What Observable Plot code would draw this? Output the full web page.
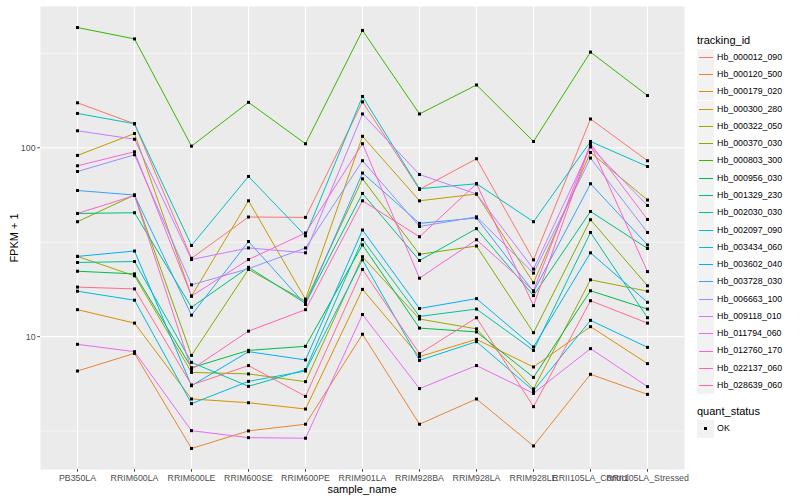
<!DOCTYPE html>
<html><head><meta charset="utf-8">
<script src="https://cdn.jsdelivr.net/npm/d3@7"></script>
<script src="https://cdn.jsdelivr.net/npm/@observablehq/plot@0.6"></script>
<style>
body{margin:0;background:#fff;font-family:"Liberation Sans",Arial,sans-serif;}
#wrap{position:relative;width:800px;height:500px;overflow:hidden;}
.t{position:absolute;white-space:nowrap;line-height:1;}
</style></head><body><div id="wrap"></div>
<script>
const samples = ["PB350LA","RRIM600LA","RRIM600LE","RRIM600SE","RRIM600PE","RRIM901LA","RRIM928BA","RRIM928LA","RRIM928LE","RRII105LA_Control","RRII105LA_Stressed"];
const trackingIds = ["Hb_000012_090","Hb_000120_500","Hb_000179_020","Hb_000300_280","Hb_000322_050","Hb_000370_030","Hb_000803_300","Hb_000956_030","Hb_001329_230","Hb_002030_030","Hb_002097_090","Hb_003434_060","Hb_003602_040","Hb_003728_030","Hb_006663_100","Hb_009118_010","Hb_011794_060","Hb_012760_170","Hb_022137_060","Hb_028639_060"];
const palette = ["#F8766D","#EA8331","#D89000","#C09B00","#A3A500","#7CAE00","#39B600","#00BB4E","#00BF7D","#00C1A3","#00BFC4","#00BAE0","#00B0F6","#35A2FF","#9590FF","#C77CFF","#E76BF3","#FA62DB","#FF62BC","#FF6C91"];
const quantStatus = ["OK"];
const yTicks = [10, 100];

// FPKM + 1 per sample (same order as samples)
const hb_000012_090 = [173, 134, 26.0, 43.0, 42.8, 175, 60.2, 87.5, 25.5, 142, 85.4];
const hb_000120_500 = [6.58, 8.16, 2.56, 3.17, 3.44, 10.3, 3.44, 4.68, 2.64, 6.32, 4.95];
const hb_000179_020 = [13.9, 11.8, 4.68, 4.47, 4.14, 17.8, 7.84, 9.68, 6.91, 11.3, 7.20];
const hb_000300_280 = [91.1, 119, 16.4, 52.4, 15.8, 115, 52.4, 56.9, 19.3, 94.4, 52.9];
const hb_000322_050 = [26.6, 21.0, 6.47, 6.35, 5.78, 26.5, 12.4, 11.0, 5.29, 20.0, 17.4];
const hb_000370_030 = [40.6, 56.2, 7.96, 22.7, 15.4, 68.5, 27.3, 30.2, 10.5, 41.6, 18.6];
const hb_000803_300 = [433, 377, 102, 174, 105, 418, 151, 215, 108, 321, 189];
const hb_000956_030 = [22.2, 21.5, 6.85, 8.46, 8.89, 30.6, 11.1, 10.6, 6.09, 17.5, 14.0];
const hb_001329_230 = [44.9, 45.3, 14.3, 23.3, 15.0, 57.3, 25.3, 37.3, 16.5, 46.0, 29.3];
const hb_002030_030 = [24.7, 25.0, 7.31, 5.46, 6.69, 32.7, 12.8, 14.0, 8.46, 35.6, 12.6];
const hb_002097_090 = [152, 134, 30.4, 70.5, 34.2, 187, 60.7, 64.5, 40.6, 108, 79.6];
const hb_003434_060 = [17.4, 15.6, 4.42, 5.80, 6.58, 25.5, 7.49, 9.41, 5.18, 12.2, 8.78];
const hb_003602_040 = [26.6, 28.4, 5.50, 8.33, 7.53, 36.7, 14.1, 15.9, 8.82, 27.8, 15.2];
const hb_003728_030 = [59.4, 56.2, 13.0, 31.9, 14.8, 73.5, 39.8, 42.5, 17.3, 64.5, 30.6];
const hb_006663_100 = [74.9, 91.8, 18.8, 22.9, 29.5, 85.4, 38.3, 43.1, 21.7, 88.2, 35.6];
const hb_009118_010 = [123, 111, 25.6, 29.5, 27.8, 151, 72.2, 56.9, 22.8, 101, 49.5];
const hb_011794_060 = [9.11, 8.33, 3.18, 2.92, 2.90, 13.1, 5.31, 7.03, 5.01, 8.64, 5.44];
const hb_012760_170 = [80.3, 95.2, 16.4, 25.6, 35.4, 105, 20.4, 32.6, 17.5, 105, 41.7];
const hb_022137_060 = [44.9, 55.9, 6.71, 10.7, 13.9, 52.4, 33.8, 64.5, 14.6, 104, 22.1];
const hb_028639_060 = [18.3, 17.9, 5.55, 7.03, 4.83, 22.7, 8.13, 12.6, 4.26, 15.5, 11.8];

const seriesValues = [hb_000012_090, hb_000120_500, hb_000179_020, hb_000300_280, hb_000322_050, hb_000370_030, hb_000803_300, hb_000956_030, hb_001329_230, hb_002030_030, hb_002097_090, hb_003434_060, hb_003602_040, hb_003728_030, hb_006663_100, hb_009118_010, hb_011794_060, hb_012760_170, hb_022137_060, hb_028639_060];

const data = trackingIds.flatMap((id, i) => samples.map((s, j) => ({id, sample: s, fpkm: seriesValues[i][j], status: quantStatus[0]})));

const FONT = '"Liberation Sans", Arial, sans-serif';
const ext = d3.extent(data, d => Math.log10(d.fpkm));
const pad = (ext[1] - ext[0]) * 0.05;
const yDomain = [Math.pow(10, ext[0] - pad), Math.pow(10, ext[1] + pad)];

const chart = Plot.plot({
  width: 800, height: 500,
  marginLeft: 40, marginRight: 116, marginTop: 6, marginBottom: 31,
  style: {fontFamily: FONT, background: "white"},
  x: {type: "point", domain: samples, padding: 0.6, label: null},
  y: {type: "log", domain: yDomain, label: null},
  color: {domain: trackingIds, range: palette},
  marks: [
    Plot.frame({fill: "#EBEBEB", stroke: "none"}),
    Plot.ruleY([Math.sqrt(10), Math.sqrt(1000), Math.sqrt(100000)], {stroke: "white", strokeWidth: 0.55}),
    Plot.ruleY(yTicks, {stroke: "white", strokeWidth: 1.1}),
    Plot.ruleX(samples, {stroke: "white", strokeWidth: 1.1}),
    Plot.line(data, {x: "sample", y: "fpkm", z: "id", stroke: "id", strokeWidth: 1}),
    Plot.dot(data, {x: "sample", y: "fpkm", symbol: "square", fill: "black", stroke: "none", r: 1.7}),
    Plot.axisY({ticks: yTicks, tickFormat: d => String(d), tickSize: 2.75, tickPadding: 2.2, fontSize: 8.8, color: "#4D4D4D", label: null}),
    Plot.axisX({tickSize: 2.75, tickPadding: 2.2, fontSize: 8.8, color: "#4D4D4D", label: null})
  ]
});

const wrap = document.getElementById("wrap");
chart.style.position = "absolute"; chart.style.left = "0"; chart.style.top = "0";
wrap.appendChild(chart);

function addText(txt, x, y, size, opts = {}) {
  const d = document.createElement("div");
  d.className = "t";
  d.textContent = txt;
  d.style.fontSize = size + "px";
  d.style.left = x + "px";
  d.style.top = y + "px";
  d.style.color = opts.color || "#000";
  if (opts.transform) d.style.transform = opts.transform;
  wrap.appendChild(d);
  return d;
}
// axis titles
addText("sample_name", 362, 489, 11, {transform: "translate(-50%,-50%)"});
addText("FPKM + 1", 14, 237.5, 11, {transform: "translate(-50%,-50%) rotate(-90deg)"});

// legend
const LX = 697, KEY = 17.28;
addText("tracking_id", LX, 41 - 6, 11);
trackingIds.forEach((id, i) => {
  const cy = 57.3 + i * KEY;
  const box = document.createElement("div");
  box.style.cssText = `position:absolute;left:${LX}px;top:${cy - KEY/2}px;width:${KEY}px;height:${KEY}px;background:#F2F2F2;`;
  const ln = document.createElement("div");
  ln.style.cssText = `position:absolute;left:1.7px;top:${KEY/2 - 0.5}px;width:${KEY - 3.4}px;height:1px;background:${palette[i]};`;
  box.appendChild(ln);
  wrap.appendChild(box);
  addText(id, LX + KEY + 2.8, cy - 4.6, 8.8);
});
addText("quant_status", LX, 412.3 - 6, 11);
{
  const cy = 429;
  const box = document.createElement("div");
  box.style.cssText = `position:absolute;left:${LX}px;top:${cy - KEY/2}px;width:${KEY}px;height:${KEY}px;background:#F2F2F2;`;
  const pt = document.createElement("div");
  pt.style.cssText = `position:absolute;left:${KEY/2 - 1.5}px;top:${KEY/2 - 1.5}px;width:3px;height:3px;background:#000;`;
  box.appendChild(pt);
  wrap.appendChild(box);
  addText(quantStatus[0], LX + KEY + 2.8, cy - 4.6, 8.8);
}
</script>
</body></html>
